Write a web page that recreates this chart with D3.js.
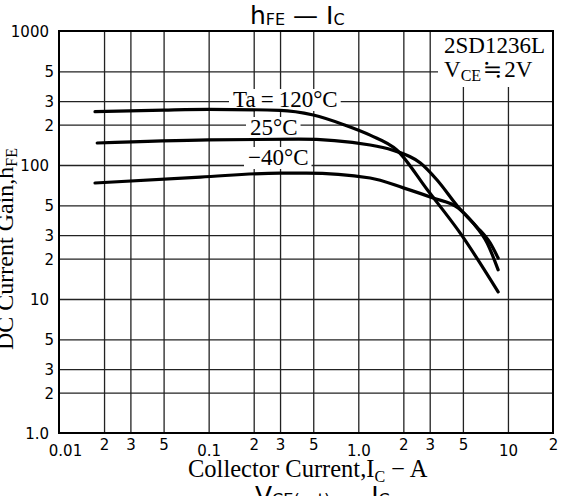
<!DOCTYPE html>
<html><head><meta charset="utf-8">
<script src="https://cdn.jsdelivr.net/npm/d3@7"></script>
<style>html,body{margin:0;padding:0;background:#fff;} svg{display:block}</style>
</head><body>
<svg id="c" width="562" height="496"></svg>
<script>
// ---- data ----
const xTicks = [0.01, 0.02, 0.03, 0.05, 0.1, 0.2, 0.3, 0.5, 1, 2, 3, 5, 10, 20];
const xTickLabels = ["0.01", "2", "3", "5", "0.1", "2", "3", "5", "1.0", "2", "3", "5", "10", "2"];
const yTicks = [1, 2, 3, 5, 10, 20, 30, 50, 100, 200, 300, 500, 1000];
const yTickLabels = ["1.0", "2", "3", "5", "10", "2", "3", "5", "100", "2", "3", "5", "1000"];
const xGrid = [0.02, 0.03, 0.05, 0.1, 0.2, 0.3, 0.5, 1, 2, 3, 5, 10];
const yGrid = [2, 3, 5, 10, 20, 30, 50, 100, 200, 300, 500];

const current120 = [0.0174, 0.05, 0.1, 0.3, 0.5, 0.8, 1.2, 1.8, 2.9, 4.8, 8.6];
const hfe120     = [250, 257, 260, 256, 236, 200, 167, 130, 65, 31, 11.3];
const current25  = [0.018, 0.1, 0.4, 1.2, 1.7, 2.6, 3.36, 4.65, 6.2, 7.6, 8.6];
const hfe25      = [146, 154, 156, 141, 129, 103.5, 77.3, 48.6, 34.5, 26.2, 20.2];
const currentM40 = [0.0174, 0.088, 0.3, 0.45, 1.2, 2.0, 3.16, 4.65, 5.85, 7.26, 8.6];
const hfeM40     = [73.4, 81.3, 87, 87, 80, 67.5, 56.7, 47.8, 36.9, 26.2, 16.5];

// ---- layout ----
const W = 562, H = 496, L = 59, R = 553, T = 31, B = 433;
const x = d3.scaleLog().domain([0.01, 20]).range([L, R]);
const y = d3.scaleLog().domain([1, 1000]).range([B, T]);
const serif = "'Liberation Serif','DejaVu Serif',serif";
const sans = "'DejaVu Sans','Liberation Sans',sans-serif";
const isDecade = d => Math.abs(Math.log10(d) % 1) < 1e-9;

const svg = d3.select('#c');
svg.append('rect').attr('width', W).attr('height', H).attr('fill', '#fff');

// grid
const gx = svg.append('g').attr('transform', `translate(0,${B})`)
  .call(d3.axisBottom(x).tickValues(xGrid).tickSize(-(B - T)).tickFormat(''));
gx.select('.domain').remove();
gx.selectAll('line').attr('stroke', '#222').attr('stroke-width', 1.3);
const gy = svg.append('g').attr('transform', `translate(${L},0)`)
  .call(d3.axisLeft(y).tickValues(yGrid).tickSize(-(R - L)).tickFormat(''));
gy.select('.domain').remove();
gy.selectAll('line').attr('stroke', '#222').attr('stroke-width', 1.3);

// legend box (white mask)
svg.append('rect').attr('x', 438).attr('y', T).attr('width', R - 438).attr('height', 56).attr('fill', '#fff');

// curve labels with white masks
const lblG = svg.append('g').attr('font-family', serif).attr('font-size', 23).attr('fill', '#000');
function mask(t) {
  const bb = t.node().getBBox();
  lblG.insert('rect', 'text').attr('x', bb.x - 4).attr('y', bb.y + 2).attr('width', bb.width + 7).attr('height', bb.height - 3).attr('fill', '#fff');
}
const l1 = lblG.append('text').attr('x', 233).attr('y', 107);
l1.append('tspan').text('Ta');
l1.append('tspan').attr('dx', 5).text('=');
l1.append('tspan').attr('dx', 5).text('120°C');
mask(l1);
const l2 = lblG.append('text').attr('x', 250).attr('y', 135).text('25°C');
mask(l2);
const l3 = lblG.append('text').attr('x', 248).attr('y', 165).text('−40°C');
mask(l3);

// curves
const line = d3.line().x(d => x(d[0])).y(d => y(d[1])).curve(d3.curveMonotoneX);
const seriesData = [
  d3.zip(current120, hfe120),
  d3.zip(current25, hfe25),
  d3.zip(currentM40, hfeM40)
];
svg.append('g').selectAll('path').data(seriesData).join('path')
  .attr('d', line).attr('fill', 'none').attr('stroke', '#000').attr('stroke-width', 3.2).attr('stroke-linecap', 'round');

// frame
svg.append('rect').attr('x', L).attr('y', T).attr('width', R - L).attr('height', B - T)
  .attr('fill', 'none').attr('stroke', '#000').attr('stroke-width', 2);

// tick labels
const xa = svg.append('g').attr('transform', `translate(0,${B})`)
  .call(d3.axisBottom(x).tickValues(xTicks).tickSize(0).tickFormat((d, i) => xTickLabels[i]));
xa.select('.domain').remove();
xa.selectAll('text').attr('font-family', sans).attr('font-size', 15).attr('fill', '#000')
  .attr('dy', 0).attr('y', d => (isDecade(d) ? 23 : 17))
  .attr('dx', (d, i) => (i === 0 ? 6 : 0));

const ya = svg.append('g').attr('transform', `translate(${L},0)`)
  .call(d3.axisLeft(y).tickValues(yTicks).tickSize(0).tickFormat((d, i) => yTickLabels[i]));
ya.select('.domain').remove();
ya.selectAll('text').attr('font-family', sans).attr('font-size', 15).attr('fill', '#000')
  .attr('dy', '0.36em').attr('x', d => (isDecade(d) ? -10 : -5));

// legend text
const lg = svg.append('g').attr('font-family', serif).attr('font-size', 23).attr('fill', '#000');
lg.append('text').attr('x', 444).attr('y', 53).text('2SD1236L');
const v = lg.append('text').attr('x', 444).attr('y', 77);
v.append('tspan').text('V');
v.append('tspan').attr('font-size', 16).attr('dy', 4).text('CE');
v.append('tspan').attr('dy', -4).attr('dx', 2).text('≒');
v.append('tspan').attr('dx', 2).text('2V');

// x axis title
const xt = svg.append('text').attr('x', 188).attr('y', 477).attr('font-family', serif).attr('font-size', 24.5).attr('fill', '#000');
xt.append('tspan').text('Collector Current,I');
xt.append('tspan').attr('font-size', 16).attr('dy', 5).text('C');
xt.append('tspan').attr('dy', -5).text(' − A');

// y axis title
const yt = svg.append('text').attr('transform', 'translate(13,350) rotate(-90)')
  .attr('font-family', serif).attr('font-size', 24).attr('fill', '#000');
yt.append('tspan').text('DC Current Gain,h');
yt.append('tspan').attr('font-size', 16).attr('dy', 4).text('FE');

// title
const tt = svg.append('text').attr('x', 250).attr('y', 24).attr('font-family', sans).attr('font-size', 25).attr('fill', '#000');
tt.append('tspan').text('h');
tt.append('tspan').attr('font-size', 16).attr('dy', 1).text('FE');
tt.append('tspan').attr('dy', -1).text(' — I');
tt.append('tspan').attr('font-size', 16).attr('dy', 1).text('C');

// next chart title, cut at the bottom edge
const bt = svg.append('text').attr('x', 255).attr('y', 504).attr('font-family', sans).attr('font-size', 25).attr('fill', '#000');
bt.append('tspan').text('V');
bt.append('tspan').attr('font-size', 16).attr('dy', 1).text('CE(sat)');
bt.append('tspan').attr('dy', -1).text(' — I');
bt.append('tspan').attr('font-size', 16).attr('dy', 1).text('C');
</script>
</body></html>
